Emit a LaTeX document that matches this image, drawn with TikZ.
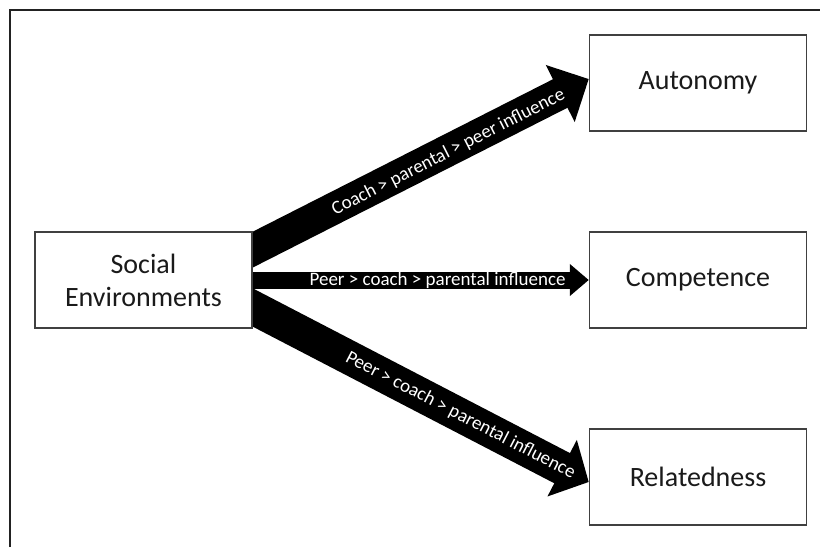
\documentclass[tikz,border=0pt]{standalone}
\usepackage{fontspec}
\setmainfont{Carlito}
\usetikzlibrary{arrows.meta,calc,backgrounds}

\tikzset{
  concept/.style={draw={rgb, 255:red, 64; green, 64; blue, 64 }, line width=1.5pt, fill=white,
    text={rgb, 255:red, 26; green, 26; blue, 26 }, minimum width=217pt, minimum height=96pt,
    inner sep=0pt, align=center, font=\fontsize{28}{33}\selectfont},
  influence/.style={draw=black, line width=32pt},
  influlabel/.style={text=white, font=\fontsize{19}{22}\selectfont, inner sep=0pt},
}

\begin{document}
\begin{tikzpicture}[x=1pt,y=1pt,yscale=-1,xscale=1]
\useasboundingbox (0,0) rectangle (820,547);

%Shape: Frame [top and left edges]
\draw [color={rgb, 255:red, 34; green, 34; blue, 34 }, line width=2pt] (10,547) -- (10,10) -- (820,10);

% Text Node
\node [concept] (soc) at (143.5,280) {Social\\Environments};
% Text Node
\node [concept] (auto) at (698,83) {Autonomy};
% Text Node
\node [concept] (comp) at (698,280) {Competence};
% Text Node
\node [concept] (rel) at (698,477) {Relatedness};

\coordinate (top) at ($(soc.east)+(0,-30)$);
\coordinate (bot) at ($(soc.east)+(0,27)$);

\begin{scope}[on background layer]
%Arrow
\draw [influence, -{Triangle[width=62pt,length=32pt]}] ($(top)!-40pt!(auto.west)$) -- ($(auto.west)+(0,-4)$)
  node [influlabel, pos=0.62, rotate=26.9, yshift=-2pt] {Coach > parental > peer influence};
%Arrow
\draw [influence, line width=17pt, -{Triangle[width=31pt,length=19pt]}] (soc.east) -- (comp.west)
  node [influlabel, pos=0.55] {Peer > coach > parental influence};
%Arrow
\draw [influence, line width=34pt, -{Triangle[width=62pt,length=30pt]}] ($(bot)!-40pt!(rel.west)$) -- ($(rel.west)+(0,5)$)
  node [influlabel, pos=0.655, rotate=-27.4] {Peer > coach > parental influence};
\end{scope}

\end{tikzpicture}
\end{document}
